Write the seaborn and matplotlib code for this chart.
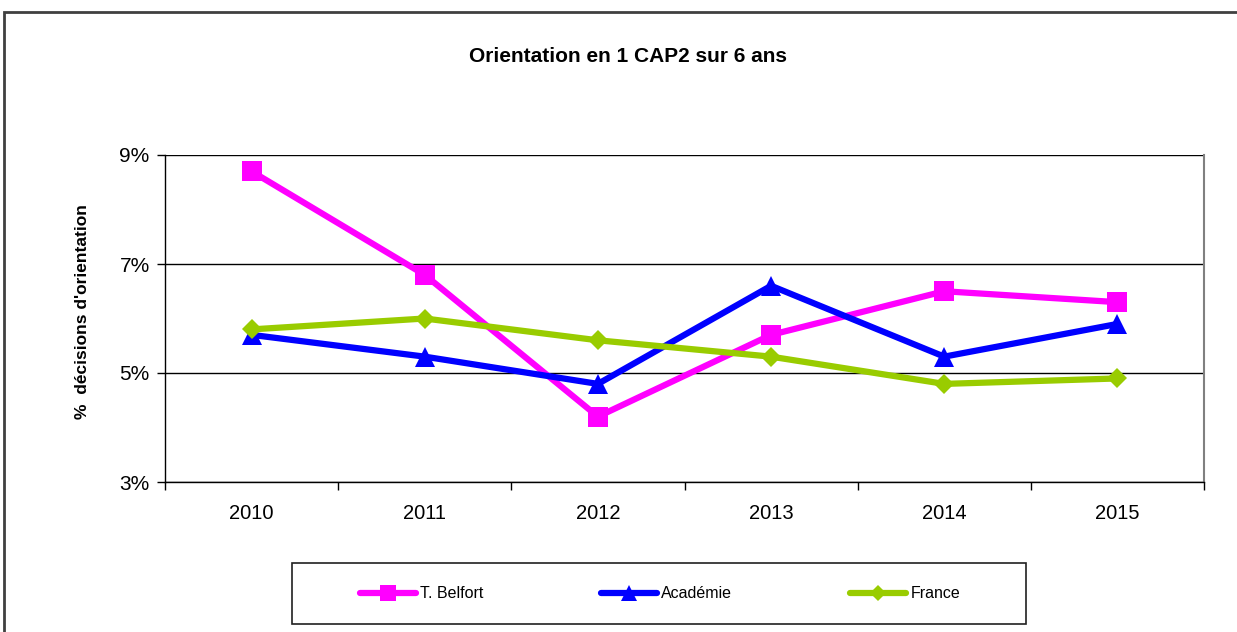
import matplotlib
matplotlib.use("Agg")
import matplotlib.pyplot as plt
import matplotlib.patches as mpatches
from matplotlib.ticker import FixedLocator, FuncFormatter
import pandas as pd
import seaborn as sns

# data
years = [2010, 2011, 2012, 2013, 2014, 2015]
belfort = [8.7, 6.8, 4.2, 5.7, 6.5, 6.3]
academie = [5.7, 5.3, 4.8, 6.6, 5.3, 5.9]
france = [5.8, 6.0, 5.6, 5.3, 4.8, 4.9]
series_names = ["T. Belfort", "Académie", "France"]
y_ticks = [3, 5, 7, 9]

df = pd.concat([
    pd.DataFrame({"annee": years, "taux": belfort, "zone": series_names[0]}),
    pd.DataFrame({"annee": years, "taux": academie, "zone": series_names[1]}),
    pd.DataFrame({"annee": years, "taux": france, "zone": series_names[2]}),
])

colors = {"T. Belfort": "#FF00FF", "Académie": "#0000FF", "France": "#99CC00"}
markers = {"T. Belfort": "s", "Académie": "^", "France": "D"}

sns.set_theme(style="white")
plt.rcParams["font.family"] = ["Liberation Sans", "DejaVu Sans"]
plt.rcParams["text.color"] = "black"
plt.rcParams["axes.labelcolor"] = "black"
plt.rcParams["xtick.color"] = "black"
plt.rcParams["ytick.color"] = "black"

fig = plt.figure(figsize=(12.37, 6.32), dpi=100)
ax = fig.add_axes([165 / 1237, 1 - 482 / 632, (1204 - 165) / 1237, (482 - 155) / 632])

sns.lineplot(data=df, x="annee", y="taux", hue="zone", style="zone",
             palette=colors, markers=markers, dashes=False, linewidth=4.5,
             markersize=14, markeredgewidth=0, legend=False, ax=ax)
for ln in ax.get_lines():
    if ln.get_marker() == "D":
        ln.set_markersize(10.5)

ax.set_xlim(years[0] - 0.5, years[-1] + 0.5)
ax.set_ylim(3, 9)
ax.set_xticks(years)
ax.set_xticklabels([str(y) for y in years])
ax.xaxis.set_minor_locator(FixedLocator([y - 0.5 for y in years] + [years[-1] + 0.5]))
ax.tick_params(axis="x", which="major", length=0, pad=16, labelsize=14.5)
ax.tick_params(axis="x", which="minor", length=6, width=1, color="black", direction="out", bottom=True)
ax.set_yticks(y_ticks)
ax.yaxis.set_major_formatter(FuncFormatter(lambda v, p: "%d%%" % v))
ax.tick_params(axis="y", length=6, width=1, color="black", direction="out", left=True, labelsize=15, pad=5)
ax.yaxis.grid(True, color="black", linewidth=1)
ax.set_axisbelow(True)

ax.set_xlabel("")
ax.set_ylabel("%  décisions d'orientation", fontsize=12.5, fontweight="bold")
ax.yaxis.set_label_coords(-0.072, 0.52)

for side in ["left", "bottom"]:
    ax.spines[side].set_color("black")
    ax.spines[side].set_linewidth(1)
ax.spines["top"].set_visible(False)
ax.spines["right"].set_color("#808080")
ax.spines["right"].set_linewidth(1.5)

fig.text(628 / 1237, 1 - 57 / 632, "Orientation en 1 CAP2 sur 6 ans",
         ha="center", va="center", fontsize=15, fontweight="bold")

# outer chart frame (only left and top visible in the reference)
fig.patches.append(mpatches.Rectangle((4 / 1237, -0.2), 1.2, 1.2 - 12 / 632,
                                      transform=fig.transFigure, fill=False,
                                      edgecolor="#404040", linewidth=2))
# legend box
fig.patches.append(mpatches.Rectangle((292 / 1237, 1 - 624 / 632), (1026 - 292) / 1237, 61 / 632,
                                      transform=fig.transFigure, fill=False,
                                      edgecolor="#202020", linewidth=1.2))

handles = [plt.Line2D([], [], color=colors[n], marker=markers[n], linewidth=4.5,
                      markersize=11 if markers[n] != "D" else 8, markeredgewidth=0,
                      solid_capstyle="round") for n in series_names]
fig.legend(handles, series_names, loc="center", ncol=3, frameon=False,
           bbox_to_anchor=(660 / 1237, 1 - 594 / 632), fontsize=11.5,
           handlelength=3.5, handletextpad=0.25, columnspacing=7.4)

fig.savefig("out.png", dpi=100)
